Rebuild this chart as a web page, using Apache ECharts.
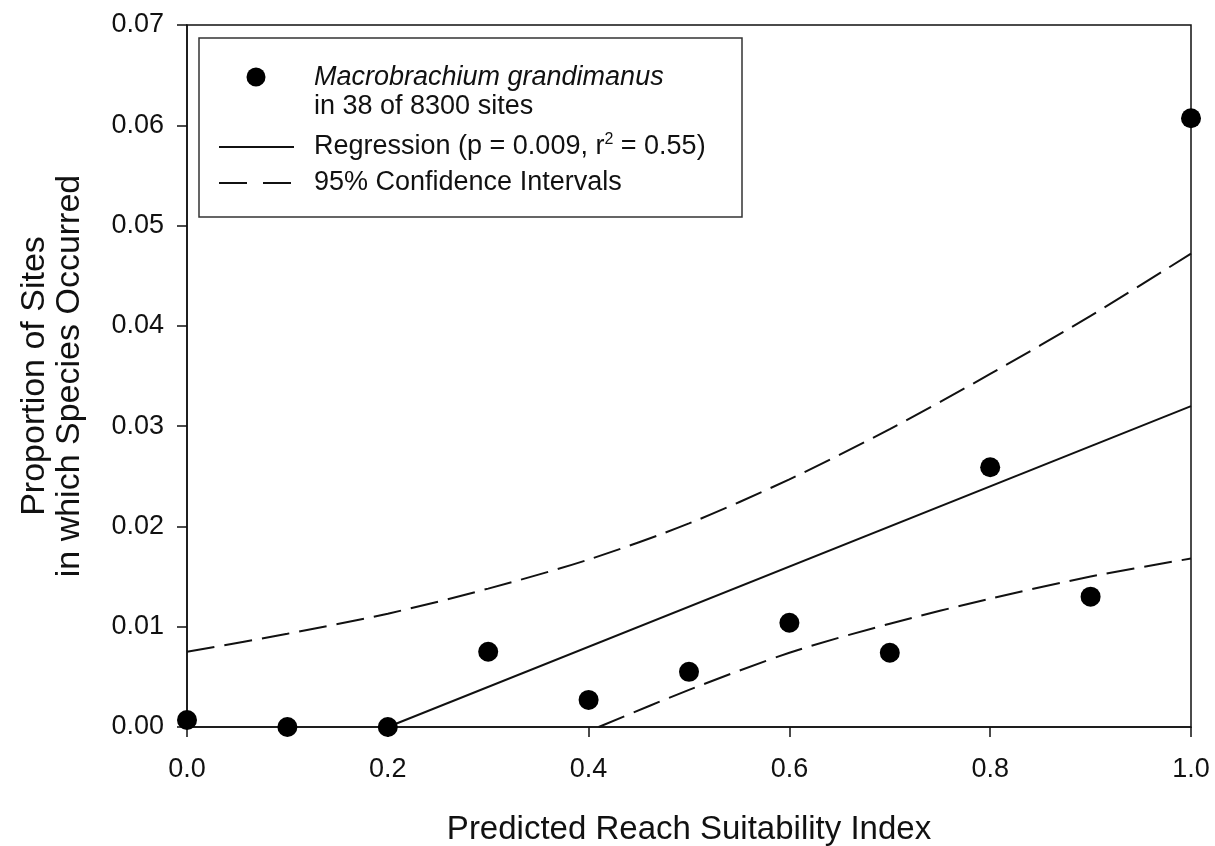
<!DOCTYPE html>
<html>
<head>
<meta charset="utf-8">
<script src="https://cdn.jsdelivr.net/npm/echarts@6/dist/echarts.min.js"></script>
<style>
html,body{margin:0;padding:0;background:#fff;}
#chart{width:1215px;height:846px;}
</style>
</head>
<body>
<div id="chart"></div>
<script>
// Observed proportions
const obsX = [0.0, 0.1, 0.2, 0.3, 0.4, 0.5, 0.6, 0.7, 0.8, 0.9, 1.0];
const obsY = [0.0007, 0.0, 0.0, 0.0075, 0.0027, 0.0055, 0.0104, 0.0074, 0.0259, 0.0130, 0.0607];
// Regression line
const regX = [0.2, 1.0];
const regY = [0.0, 0.032];
// Upper 95% CI
const upX = [0.0, 0.1, 0.2, 0.3, 0.4, 0.5, 0.6, 0.7, 0.8, 0.9, 1.0];
const upY = [0.0075, 0.0093, 0.0113, 0.0138, 0.0167, 0.0203, 0.0247, 0.0297, 0.0352, 0.0410, 0.0472];
// Lower 95% CI
const loX = [0.41, 0.5, 0.6, 0.7, 0.8, 0.9, 1.0];
const loY = [0.0, 0.0037, 0.0074, 0.0103, 0.0128, 0.0150, 0.0168];

const zip = (a, b) => a.map((v, i) => [v, b[i]]);
const FONT = 'Liberation Sans, Arial, sans-serif';

const chart = echarts.init(document.getElementById('chart'));
chart.setOption({
  backgroundColor: '#fff',
  animation: false,
  grid: { left: 187, right: 24, top: 25, bottom: 119, outerBoundsMode: 'none', containLabel: false,
    show: true, borderColor: '#111', borderWidth: 1.5, backgroundColor: 'transparent' },
  xAxis: {
    type: 'value', min: 0, max: 1, interval: 0.2,
    name: 'Predicted Reach Suitability Index', nameLocation: 'middle', nameGap: 86,
    nameTextStyle: { fontFamily: FONT, fontSize: 33, color: '#111' },
    axisLine: { lineStyle: { color: '#111', width: 1.5 } },
    axisTick: { show: true, length: 10, inside: false, lineStyle: { color: '#111', width: 1.5 } },
    axisLabel: { margin: 29, fontFamily: FONT, fontSize: 27, color: '#111', formatter: v => v.toFixed(1) },
    splitLine: { show: false }
  },
  yAxis: {
    type: 'value', min: 0, max: 0.07, interval: 0.01,
    name: 'Proportion of Sites\nin which Species Occurred', nameLocation: 'middle', nameGap: 100,
    nameTextStyle: { fontFamily: FONT, fontSize: 34, color: '#111', lineHeight: 35 },
    axisLine: { lineStyle: { color: '#111', width: 1.5 } },
    axisTick: { show: true, length: 10, inside: false, lineStyle: { color: '#111', width: 1.5 } },
    axisLabel: { margin: 23, fontFamily: FONT, fontSize: 27, color: '#111', formatter: v => v.toFixed(2) },
    splitLine: { show: false }
  },
  series: [
    { type: 'line', data: zip(upX, upY), smooth: 0.3, symbol: 'none',
      lineStyle: { color: '#111', width: 2, type: [28, 10] } },
    { type: 'line', data: zip(loX, loY), smooth: 0.3, symbol: 'none',
      lineStyle: { color: '#111', width: 2, type: [28, 10] } },
    { type: 'line', data: zip(regX, regY), symbol: 'none',
      lineStyle: { color: '#111', width: 2 } },
    { type: 'scatter', data: zip(obsX, obsY), symbol: 'circle', symbolSize: 20, clip: false,
      itemStyle: { color: '#000', opacity: 1 }, z: 5 }
  ],
  graphic: [
    { type: 'rect', shape: { x: 199, y: 38, width: 543, height: 179 },
      style: { fill: '#fff', stroke: '#333', lineWidth: 1.5 }, z: 10 },
    { type: 'circle', shape: { cx: 256, cy: 77, r: 9.5 }, style: { fill: '#000' }, z: 11 },
    { type: 'text', x: 314, y: 77, z: 11,
      style: { text: 'Macrobrachium grandimanus', font: 'italic 27px ' + FONT, fill: '#111', verticalAlign: 'middle' } },
    { type: 'text', x: 314, y: 107, z: 11,
      style: { text: 'in 38 of 8300 sites', font: '27px ' + FONT, fill: '#111', verticalAlign: 'middle' } },
    { type: 'line', shape: { x1: 219, y1: 147, x2: 294, y2: 147 }, style: { stroke: '#111', lineWidth: 2 }, z: 11 },
    { type: 'text', x: 314, y: 147, z: 11,
      style: {
        text: '{n|Regression (p = 0.009, r}{s|2}{n| = 0.55)}', verticalAlign: 'middle',
        rich: {
          n: { fontFamily: FONT, fontSize: 27, fill: '#111', color: '#111' },
          s: { fontFamily: FONT, fontSize: 16, fill: '#111', color: '#111', verticalAlign: 'top', padding: [0, 0, 14, 0] }
        }
      } },
    { type: 'line', shape: { x1: 219, y1: 183, x2: 294, y2: 183 }, style: { stroke: '#111', lineWidth: 2, lineDash: [28, 16] }, z: 11 },
    { type: 'text', x: 314, y: 183, z: 11,
      style: { text: '95% Confidence Intervals', font: '27px ' + FONT, fill: '#111', verticalAlign: 'middle' } }
  ]
});
</script>
</body>
</html>
